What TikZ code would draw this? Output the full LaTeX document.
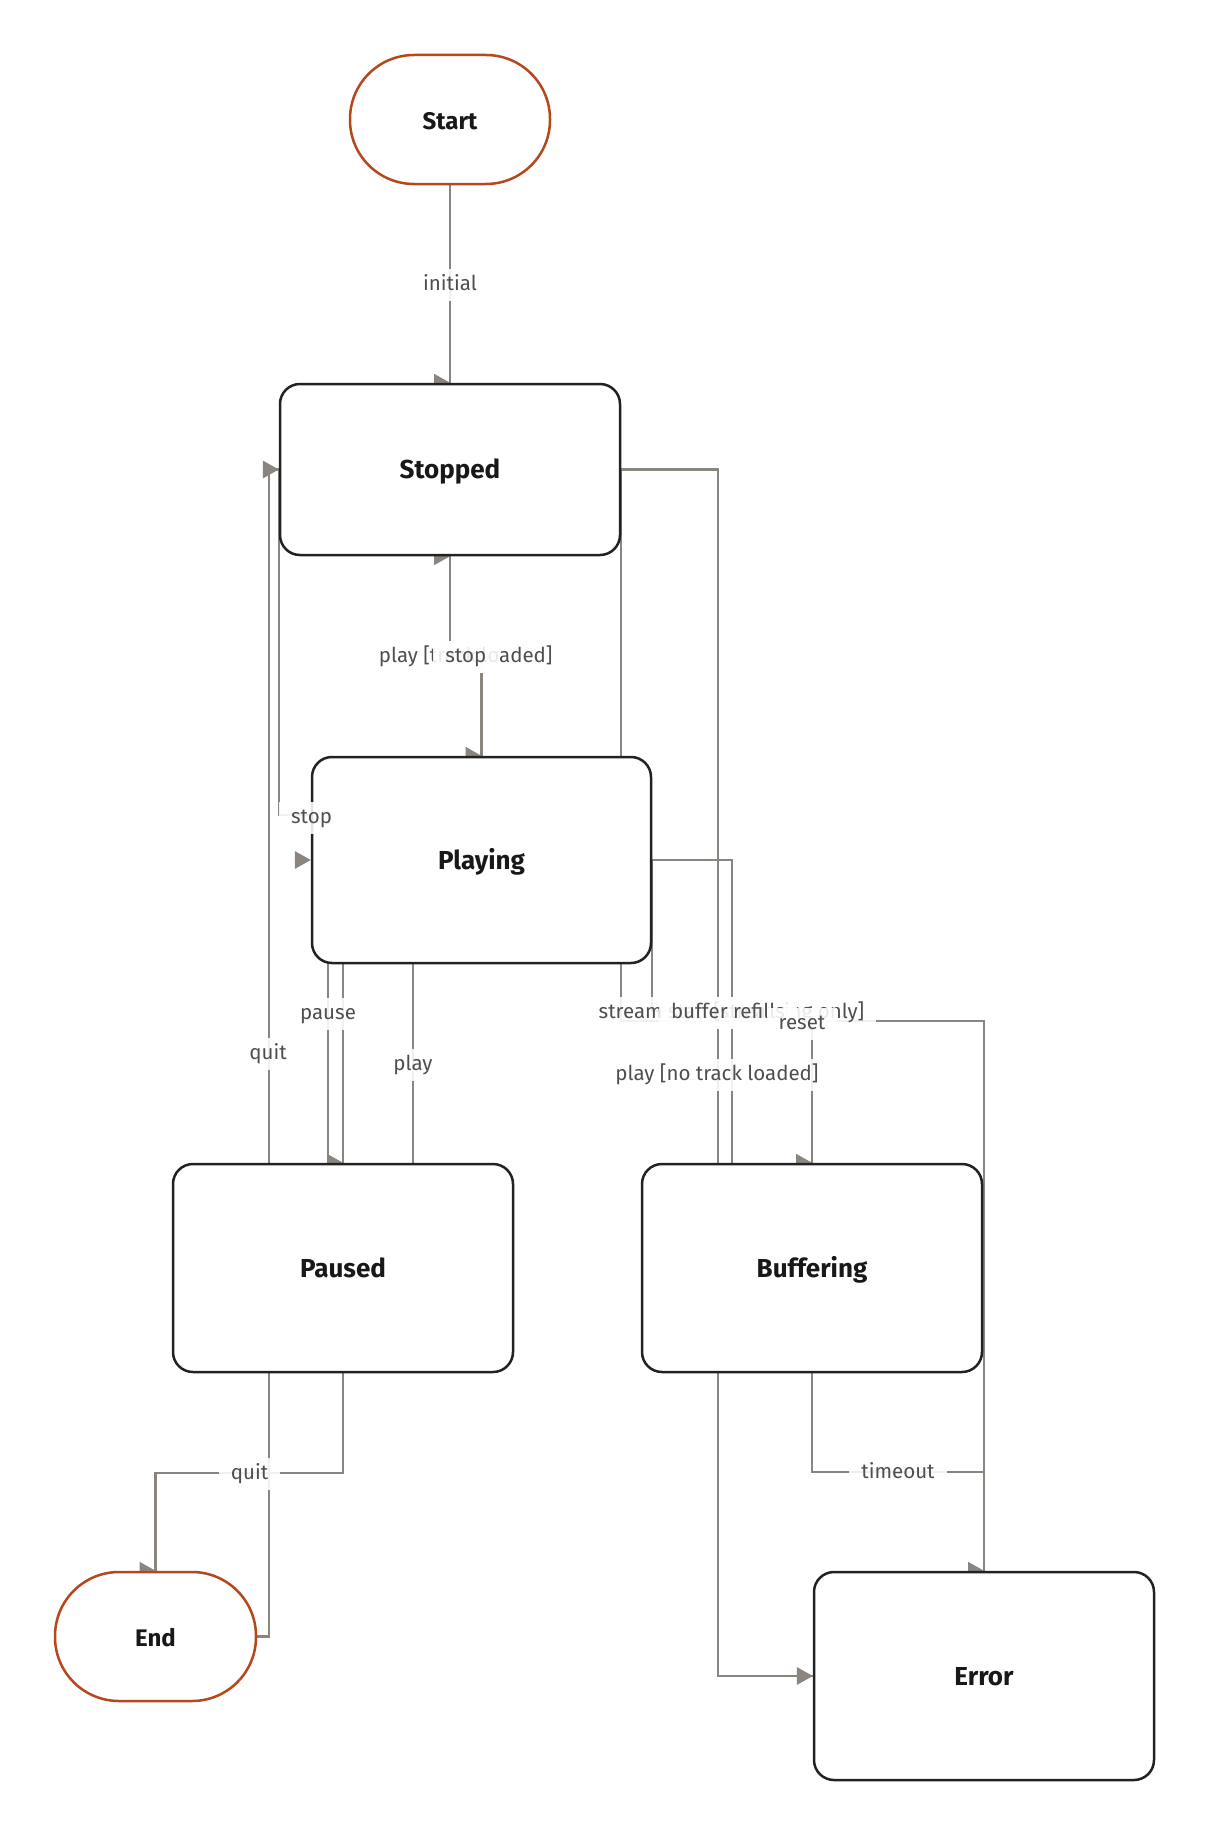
\documentclass[tikz,border=0pt]{standalone}
\usepackage{fontspec}
\setmainfont{Fira Sans}
\usetikzlibrary{calc}
\pgfdeclarelayer{bgl}
\pgfdeclarelayer{fgl}
\pgfsetlayers{bgl,main,fgl}
\definecolor{edgec}{RGB}{138,134,127}
\definecolor{nodeb}{RGB}{34,34,34}
\definecolor{termc}{RGB}{181,71,29}
\definecolor{lblc}{RGB}{78,78,78}
\definecolor{txtc}{RGB}{24,24,24}
\tikzset{
  state/.style={draw=nodeb, line width=2.5pt, fill=white, rounded corners=20pt,
    minimum width=340pt, text=txtc, font=\fontsize{26}{30}\selectfont\bfseries, inner sep=0pt,
    text height=20pt, text depth=2pt},
  term/.style={draw=termc, line width=2.5pt, fill=white, rounded corners=64pt,
    minimum width=200pt, minimum height=129pt, text=txtc,
    font=\fontsize{24}{28}\selectfont\bfseries, inner sep=0pt,
    text height=20pt, text depth=0pt},
  edge/.style={draw=edgec, line width=2.3pt},
  lbl/.style={fill=white, fill opacity=0.88, text opacity=1, text=lblc,
    font=\fontsize{20.5}{24}\selectfont, inner xsep=12pt, inner ysep=6.5pt,
    text height=14.5pt, text depth=4.5pt},
}
\newcommand\arrowtip[1]{\fill[edgec] (#1) -- ++(-16,-9) -- ++(0,18) -- cycle;}
\begin{document}
\begin{tikzpicture}[x=1pt,y=-1pt]
\useasboundingbox (0,0) rectangle (1210,1836);
\begin{pgfonlayer}{bgl}
\fill[white] (0,0) rectangle (1210,1836);
\end{pgfonlayer}

% nodes
\node[term]  (start)     at (450,119.5)  {Start};
\node[state, minimum height=171pt] (stopped)   at (450,469.5)  {Stopped};
\node[state, minimum height=206pt, minimum width=339pt] (playing) at (481.5,860) {Playing};
\node[state, minimum height=208pt] (paused)    at (343,1268)   {Paused};
\node[state, minimum height=208pt] (buffering) at (812,1268)   {Buffering};
\node[term, minimum width=201pt] (endn) at (155.5,1636.5) {End};
\node[state, minimum height=208pt] (error)     at (984,1676)   {Error};

\begin{pgfonlayer}{bgl}
% initial
\draw[edge] (start.south) -- (stopped.north);
\arrowtip{stopped.north}
% play [track loaded]
\draw[edge] (stopped.south) -- ++(0,100) -| (playing.north);
\arrowtip{playing.north}
% stop (Playing -> Stopped)
\draw[edge] (playing.north) -- ++(0,-102) -| (stopped.south);
\arrowtip{stopped.south}
% quit (End -> Stopped)
\draw[edge] (endn.east) -- ++(12,0) |- (stopped.west);
% stop (Paused -> Stopped)
\draw[edge] (paused.north) -- ++(0,-348) -| (stopped.west);
\arrowtip{stopped.west}
% pause
\draw[edge] ($(playing.south)+(-153.5,0)$) |- (paused.north);
\arrowtip{paused.north}
% play (Paused -> Playing)
\draw[edge] ($(paused.north)+(70,0)$) |- (playing.west);
\arrowtip{playing.west}
% quit (Paused -> End)
\draw[edge] (paused.south) -- ++(0,100) -| (endn.north);
\arrowtip{endn.north}
% play [no track loaded]
\draw[edge] (stopped.east) -- ++(97,0) |- (error.west);
\arrowtip{error.west}
% buffer refills
\draw[edge] ($(buffering.north)+(-80,0)$) |- (playing.east);
\arrowtip{playing.east}
% reset
\draw[edge] (error.north) -- ++(0,-550) -| (stopped.east);
\arrowtip{stopped.east}
% stream stall
\draw[edge] (playing.east) -- ++(0,151) -| (buffering.north);
\arrowtip{buffering.north}
% timeout
\draw[edge] (buffering.south) -- ++(0,99) -| (error.north);
\arrowtip{error.north}
\end{pgfonlayer}

\begin{pgfonlayer}{fgl}
\node[lbl] (lInit)   at (450,285)    {initial};
\node[lbl] (lPlayA)  at (465.75,657) {play [track loaded]};
\node[lbl] (lStopA)  at (465.75,657) {stop};
\node[lbl] (lQuitA)  at (268,1054)   {quit};
\node[lbl] (lStopB)  at (311.5,818)  {stop};
\node[lbl] (lPause)  at (328,1014)   {pause};
\node[lbl] (lPlayB)  at (413,1065)   {play};
\node[lbl] (lQuitB)  at (249.5,1474) {quit};
\node[lbl] (lPlayC)  at (717,1075)   {play [no track loaded]};
\node[lbl] (lStream) at (731.5,1013) {stream stall [streaming only]};
\node[lbl] (lBuffer) at (728,1013)   {buffer refills};
\node[lbl] (lReset)  at (802,1024)   {reset};
\node[lbl] (lTime)   at (898,1473)   {timeout};
\end{pgfonlayer}
\end{tikzpicture}
\end{document}
